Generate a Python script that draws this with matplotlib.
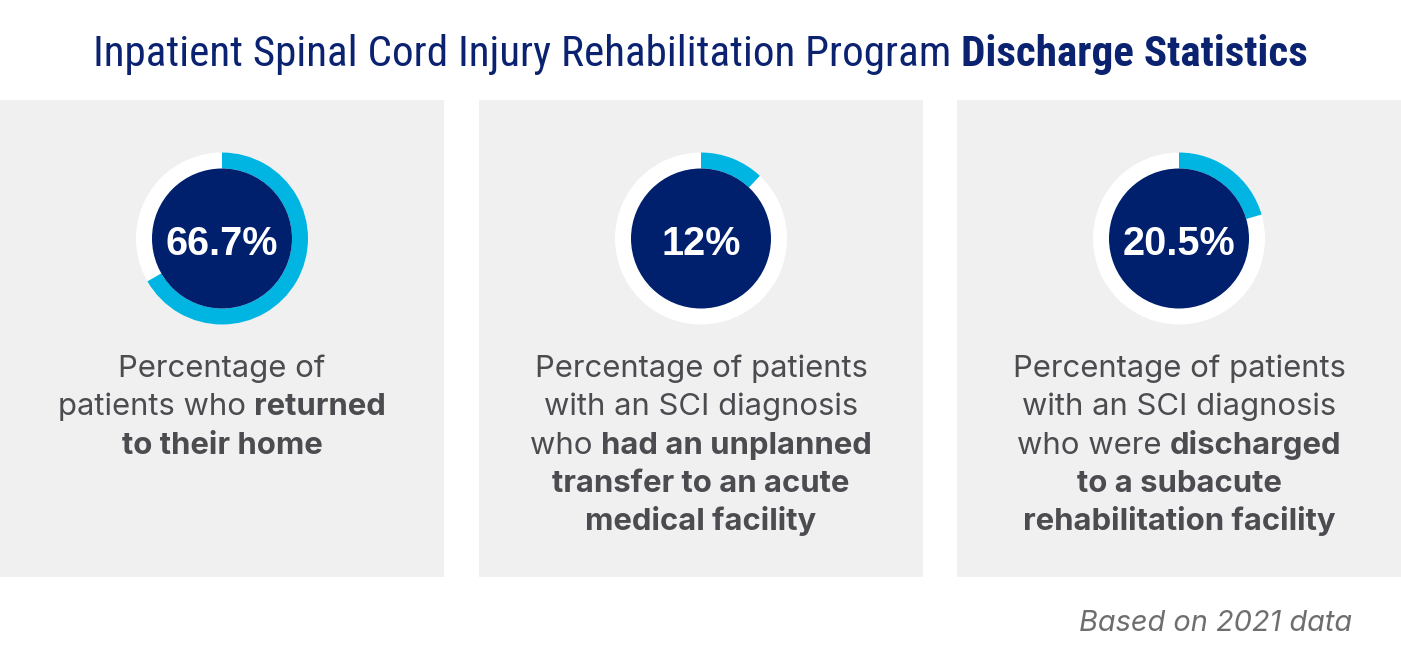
"""Discharge statistics infographic: three donut panels with captions."""
import matplotlib
matplotlib.use("Agg")
import matplotlib.pyplot as plt
from matplotlib import font_manager
from matplotlib.patches import Rectangle, Wedge, Circle

# ── Data ─────────────────────────────────────────────────────────────────
title_regular = "Inpatient Spinal Cord Injury Rehabilitation Program "
title_bold = "Discharge Statistics"
percent_values = [66.7, 12.0, 20.5]
percent_labels = ["66.7%", "12%", "20.5%"]
# each caption line is a list of (text, bold) pieces
captions = [
    [[("Percentage of", False)],
     [("patients who ", False), ("returned", True)],
     [("to their home", True)]],
    [[("Percentage of patients", False)],
     [("with an SCI diagnosis", False)],
     [("who ", False), ("had an unplanned", True)],
     [("transfer to an acute", True)],
     [("medical facility", True)]],
    [[("Percentage of patients", False)],
     [("with an SCI diagnosis", False)],
     [("who were ", False), ("discharged", True)],
     [("to a subacute", True)],
     [("rehabilitation facility", True)]],
]
footnote = "Based on 2021 data"

# ── Style ────────────────────────────────────────────────────────────────
NAVY = "#0b2270"
DARK = "#00206e"
CYAN = "#00b5e2"
PANEL = "#f0f0f0"
TEXT = "#4b4b50"
NOTE = "#6e6e6e"


def pick(*names):
    for n in names:
        try:
            font_manager.findfont(font_manager.FontProperties(family=n),
                                  fallback_to_default=False)
            return n
        except ValueError:
            continue
    return "DejaVu Sans"


NARROW = pick("Liberation Sans Narrow", "Roboto Condensed", "Liberation Sans")
BODY = pick("Inter", "Open Sans", "Liberation Sans")
FIG = pick("Liberation Sans", "Roboto")

W, H = 1401, 664
fig = plt.figure(figsize=(W / 100, H / 100), dpi=100)
ax = fig.add_axes([0, 0, 1, 1])
ax.set_xlim(0, W)
ax.set_ylim(H, 0)
ax.axis("off")
renderer = fig.canvas.get_renderer()


def text_width(s, **kw):
    t = ax.text(0, 0, s + "|", **kw)
    bar = ax.text(0, 0, "|", **kw)
    w = t.get_window_extent(renderer).width - bar.get_window_extent(renderer).width
    t.remove()
    bar.remove()
    return w


def line_width(pieces, family, size):
    return sum(text_width(s, family=family, fontsize=size,
                          fontweight="bold" if b else "normal") for s, b in pieces)


def draw_line(xc, y, pieces, family, size, color):
    x = xc - line_width(pieces, family, size) / 2
    for s, b in pieces:
        kw = dict(family=family, fontsize=size, fontweight="bold" if b else "normal")
        ax.text(x, y, s, color=color, va="baseline", ha="left", **kw)
        x += text_width(s, **kw)


# sizes fitted to the widths measured on the reference
title_pieces = [(title_regular, False), (title_bold, True)]
tsize = 27.0 * 1213 / line_width(title_pieces, NARROW, 27.0)
bsize = 20.0 * 333 / line_width(captions[1][0], BODY, 20.0)
nsize = 16.0 * 273 / text_width(footnote, family=BODY, fontsize=16.0, style="italic")

draw_line(700.5, 66, title_pieces, NARROW, tsize, NAVY)

# panels
panel_left = [0, 479, 957]
panel_w = 444
for i, left in enumerate(panel_left):
    ax.add_patch(Rectangle((left, 100), panel_w, 477, facecolor=PANEL, edgecolor="none"))
    cx, cy = left + panel_w / 2, 238.5
    ax.add_patch(Circle((cx, cy), 86, facecolor="white", edgecolor="none"))
    # y axis is inverted, so angles run clockwise on screen
    ax.add_patch(Wedge((cx, cy), 86, -90, -90 + 360 * percent_values[i] / 100,
                       width=16, facecolor=CYAN, edgecolor="none"))
    ax.add_patch(Circle((cx, cy), 70, facecolor=DARK, edgecolor="none"))
    ax.text(cx, 255, percent_labels[i], family=FIG, fontsize=28.5, fontweight="bold",
            color="white", ha="center", va="baseline")
    for j, line in enumerate(captions[i]):
        draw_line(cx, 377 + 38.3 * j, line, BODY, bsize, TEXT)

ax.text(1352, 631, footnote, family=BODY, fontsize=nsize, style="italic",
        color=NOTE, ha="right", va="baseline")

fig.savefig("out.png", dpi=100)
